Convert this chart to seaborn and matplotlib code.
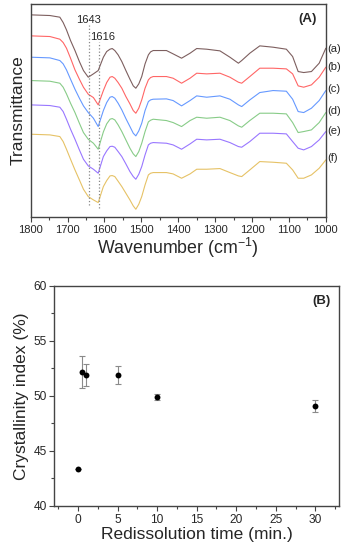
import matplotlib
matplotlib.use("Agg")
import matplotlib.pyplot as plt
import numpy as np
import pandas as pd
import seaborn as sns
from matplotlib.ticker import MultipleLocator

# FTIR spectra (A): shared wavenumber grid, stacked transmittance (a.u.)
wavenumber = [1800, 1748, 1721, 1712, 1703, 1692, 1680, 1668, 1657, 1644,
              1630, 1617, 1603, 1594, 1585, 1579, 1572, 1563, 1553, 1542,
              1531, 1522, 1515, 1507, 1499, 1490, 1481, 1475, 1468, 1432,
              1414, 1391, 1368, 1350, 1323, 1287, 1260, 1237, 1228, 1206,
              1179, 1143, 1107, 1090, 1075, 1060, 1039, 1018, 1000]
spec_a = [607, 605, 600, 584, 562, 530, 500, 467, 440, 420, 430, 440, 480, 497,
          504, 506, 500, 487, 467, 440, 414, 394, 387, 400, 422, 460, 487, 496,
          500, 500, 490, 477, 492, 506, 504, 499, 480, 462, 470, 492, 514, 510,
          504, 482, 437, 434, 437, 462, 507]
spec_b = [544, 542, 534, 524, 507, 477, 442, 414, 390, 369, 359, 337, 380, 404,
          420, 422, 417, 404, 387, 362, 340, 320, 312, 327, 352, 387, 412, 419,
          422, 422, 417, 402, 417, 432, 430, 432, 420, 405, 402, 422, 447, 447,
          445, 430, 394, 390, 397, 420, 450]
spec_c = [480, 478, 470, 460, 442, 414, 384, 357, 334, 314, 297, 272, 320, 344,
          360, 362, 357, 342, 322, 296, 272, 252, 244, 259, 282, 320, 347, 352,
          354, 355, 350, 334, 350, 364, 360, 364, 354, 337, 332, 352, 374, 380,
          378, 354, 317, 314, 327, 350, 380]
spec_d = [410, 408, 402, 390, 370, 342, 314, 282, 254, 234, 222, 204, 256, 280,
          294, 296, 292, 277, 257, 232, 207, 190, 182, 197, 222, 257, 286, 291,
          294, 290, 284, 272, 290, 300, 297, 300, 290, 274, 270, 290, 312, 312,
          310, 284, 254, 257, 262, 284, 314]
spec_e = [337, 335, 330, 317, 294, 264, 234, 202, 174, 154, 144, 132, 182, 199,
          212, 213, 210, 197, 182, 160, 137, 122, 114, 129, 152, 187, 217, 222,
          224, 222, 217, 204, 220, 234, 232, 234, 224, 212, 210, 227, 252, 252,
          250, 227, 207, 202, 212, 232, 257]
spec_f = [249, 247, 242, 227, 204, 174, 142, 112, 84, 62, 52, 44, 92, 110,
          124, 125, 122, 108, 92, 72, 52, 34, 24, 39, 62, 97, 127, 132,
          134, 134, 130, 117, 130, 144, 144, 146, 134, 124, 122, 142, 167, 165,
          162, 142, 117, 117, 127, 147, 172]
spec_names = ["(a)", "(b)", "(c)", "(d)", "(e)", "(f)"]
spec_colors = ["#7d5f5f", "#ff6666", "#6699ff", "#88cc88", "#9977ff", "#e6c266"]
marker_bands = [1643, 1616]

# Crystallinity index (B)
redis_time = [0, 0.5, 1, 5, 10, 30]
cryst_index = [43.4, 52.2, 51.9, 51.9, 49.9, 49.05]
cryst_err = [0.0, 1.45, 1.0, 0.85, 0.25, 0.55]

sns.set_style("ticks")
plt.rcParams["font.family"] = ["Liberation Sans", "DejaVu Sans"]
plt.rcParams["mathtext.fontset"] = "custom"
plt.rcParams["mathtext.rm"] = "Liberation Sans"

fig = plt.figure(figsize=(3.46, 5.5), dpi=100)
ax1 = fig.add_axes([0.0887, 0.605, 0.853, 0.388])
ax2 = fig.add_axes([0.157, 0.08, 0.823, 0.4005])

spine_col = "#444444"

# ---- panel A ----
spectra = [spec_a, spec_b, spec_c, spec_d, spec_e, spec_f]
df = pd.concat(
    [pd.DataFrame({"wavenumber": wavenumber, "T": s, "sample": n})
     for s, n in zip(spectra, spec_names)],
    ignore_index=True,
)
sns.lineplot(data=df, x="wavenumber", y="T", hue="sample", palette=spec_colors,
             estimator=None, sort=False, lw=0.8, legend=False, ax=ax1)

ax1.plot([1643, 1643], [37, 577], ls=":", color="#888888", lw=0.9)
ax1.plot([1616, 1616], [27, 527], ls=":", color="#888888", lw=0.9)
ax1.text(1643, 592, "1643", ha="center", va="center", fontsize=8)
ax1.text(1604, 540, "1616", ha="center", va="center", fontsize=8)
ax1.text(0.97, 0.93, "(A)", transform=ax1.transAxes, ha="right", va="center",
         fontsize=9.5, fontweight="bold")

label_y = [0.789, 0.705, 0.602, 0.498, 0.404, 0.278]
for name, yy in zip(spec_names, label_y):
    ax1.text(1.005, yy, name, transform=ax1.transAxes, ha="left", va="center",
             fontsize=8, clip_on=False)

ax1.set_xlim(1800, 1000)
ax1.set_ylim(0, 640)
ax1.set_yticks([])
ax1.xaxis.set_major_locator(MultipleLocator(100))
ax1.xaxis.set_minor_locator(MultipleLocator(50))
ax1.tick_params(axis="x", which="major", labelsize=8, length=3.5, width=0.8,
                color=spine_col, pad=2)
ax1.tick_params(axis="x", which="minor", length=2, width=0.8, color=spine_col)
ax1.set_xlabel("Wavenumber (cm$^{-1}$)", fontsize=12.8, labelpad=1)
ax1.set_ylabel("Transmittance", fontsize=12.5, labelpad=4)

# ---- panel B ----
ax2.errorbar(redis_time, cryst_index, yerr=cryst_err, fmt="none",
             ecolor="#8a8a8a", elinewidth=0.8, capsize=2, capthick=0.8)
sns.scatterplot(x=redis_time, y=cryst_index, color="black", s=18,
                edgecolor="black", linewidth=0, zorder=3, ax=ax2)
ax2.text(0.97, 0.93, "(B)", transform=ax2.transAxes, ha="right", va="center",
         fontsize=9.5, fontweight="bold")
ax2.set_xlim(-3, 33)
ax2.set_ylim(40, 60)
ax2.xaxis.set_major_locator(MultipleLocator(5))
ax2.xaxis.set_minor_locator(MultipleLocator(2.5))
ax2.yaxis.set_major_locator(MultipleLocator(5))
ax2.yaxis.set_minor_locator(MultipleLocator(2.5))
ax2.tick_params(which="major", labelsize=8.6, length=3.5, width=0.8,
                color=spine_col, pad=2)
ax2.tick_params(which="minor", length=2, width=0.8, color=spine_col)
ax2.set_xlabel("Redissolution time (min.)", fontsize=12.5, labelpad=1)
ax2.set_ylabel("Crystallinity index (%)", fontsize=12.5, labelpad=3)

for ax in (ax1, ax2):
    for sp in ax.spines.values():
        sp.set_visible(True)
        sp.set_color(spine_col)
        sp.set_linewidth(1.0)

fig.savefig("out.png", dpi=100)
